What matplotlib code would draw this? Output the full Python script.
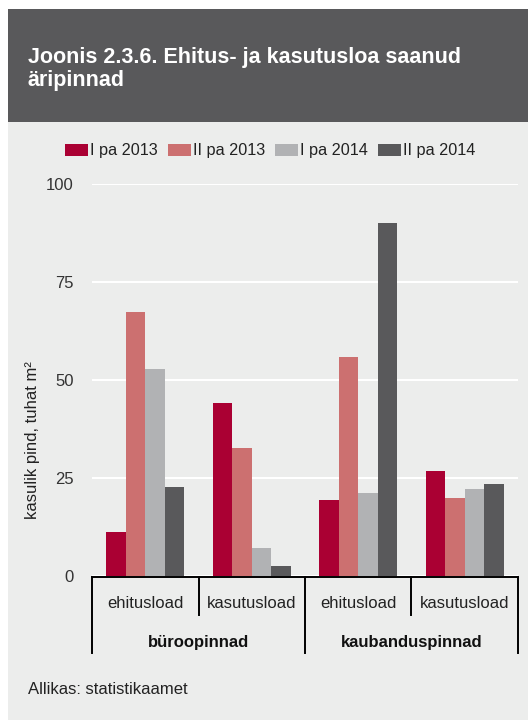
import matplotlib
matplotlib.use("Agg")
import matplotlib.pyplot as plt
from matplotlib.patches import Rectangle, Patch
from matplotlib.lines import Line2D
import numpy as np

plt.rcParams['font.family'] = ['Liberation Sans', 'DejaVu Sans']

title = "Joonis 2.3.6. Ehitus- ja kasutusloa saanud\näripinnad"
series = ["I pa 2013", "II pa 2013", "I pa 2014", "II pa 2014"]
subcats = ["ehitusload", "kasutusload", "ehitusload", "kasutusload"]
groups = ["büroopinnad", "kaubanduspinnad"]
i_2013 = [11.2, 44.1, 19.3, 26.8]
ii_2013 = [67.3, 32.7, 55.8, 19.9]
i_2014 = [52.7, 7.1, 21.1, 22.2]
ii_2014 = [22.8, 2.6, 90.0, 23.4]
yticks = [0, 25, 50, 75, 100]
ylabel = "kasulik pind, tuhat m²"
source = "Allikas: statistikaamet"

colors = ["#AA0033", "#CC7070", "#B1B2B4", "#59595B"]
bg = "#ECEDEC"
header = "#59595B"

W, H = 528, 720
fig = plt.figure(figsize=(W / 100, H / 100), dpi=100)
fig.patch.set_facecolor("white")

def fx(px):
    return px / W

def fy(py):
    return 1 - py / H

# panels
fig.patches.append(Rectangle((fx(8), 0), fx(520), (720 - 9) / H,
                             transform=fig.transFigure, facecolor=bg, edgecolor="none", zorder=-10))
fig.patches.append(Rectangle((fx(8), fy(122)), fx(520), (122 - 9) / H,
                             transform=fig.transFigure, facecolor=header, edgecolor="none", zorder=-9))

fig.text(fx(28), fy(86), title, color="white", fontsize=15.5, fontweight="bold",
         va="baseline", ha="left", linespacing=1.12)

ax_l, ax_r, ax_t, ax_b = 92, 518, 184, 576
ax = fig.add_axes([fx(ax_l), fy(ax_b), fx(ax_r - ax_l), (ax_b - ax_t) / H])
ax.set_facecolor(bg)
ax.patch.set_alpha(0)

x = np.arange(len(subcats))
bw = 0.183
data = [i_2013, ii_2013, i_2014, ii_2014]
for k, (vals, c, name) in enumerate(zip(data, colors, series)):
    ax.bar(x + (k - 1.5) * bw, vals, width=bw, color=c, edgecolor="none", zorder=3, label=name)

ax.set_xlim(-0.5, len(subcats) - 0.5)
ax.set_ylim(0, 100)
ax.set_yticks(yticks)
ax.set_yticklabels([str(t) for t in yticks], fontsize=12, color="#333333")
ax.tick_params(axis="y", length=0, pad=13)
ax.tick_params(axis="x", length=0, labelbottom=False)
for s in ax.spines.values():
    s.set_visible(False)
ax.yaxis.grid(True, color="white", linewidth=1.5, zorder=0)
ax.set_axisbelow(True)

fig.text(fx(33), fy(440), ylabel, rotation=90, fontsize=12, color="#222222",
         ha="center", va="center")

# legend
handles = [Patch(facecolor=c, edgecolor="none") for c in colors]
fig.legend(handles, series, loc="center", bbox_to_anchor=(fx(270), fy(151)), ncol=4,
           frameon=False, fontsize=11.7, handlelength=1.45, handleheight=0.8,
           handletextpad=0.1, columnspacing=0.6, labelcolor="#222222")

# table lines
lw = 1.4
fig.add_artist(Line2D([fx(ax_l), fx(ax_r)], [fy(577), fy(577)], color="black", lw=lw))
xs = [92, 199, 305, 411, 518]
for i, xp in enumerate(xs):
    bottom = 653 if i % 2 == 0 else 615
    fig.add_artist(Line2D([fx(xp), fx(xp)], [fy(577), fy(bottom)], color="black", lw=lw))

trans = matplotlib.transforms.blended_transform_factory(ax.transData, fig.transFigure)
for i, lab in enumerate(subcats):
    ax.text(x[i], fy(604), lab, transform=trans, ha="center", va="center",
            fontsize=12, color="#222222")
for g, lab in enumerate(groups):
    ax.text(2 * g + 0.5, fy(642), lab, transform=trans, ha="center", va="center",
            fontsize=12, fontweight="bold", color="#111111")

fig.text(fx(28), fy(689), source, fontsize=12, color="#222222", ha="left", va="center")

fig.savefig("out.png", dpi=100, facecolor=fig.get_facecolor())
